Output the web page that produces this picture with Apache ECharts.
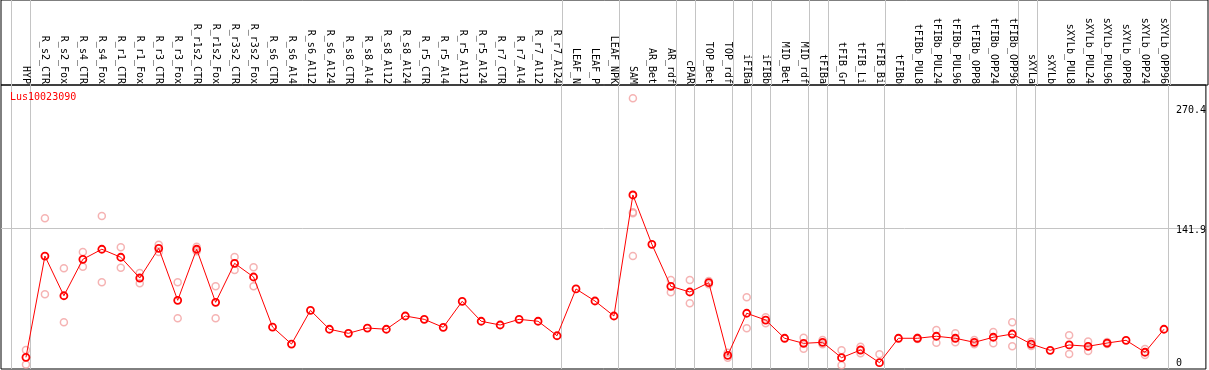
<!DOCTYPE html>
<html>
<head>
<meta charset="utf-8">
<script src="https://cdn.jsdelivr.net/npm/echarts@6/dist/echarts.min.js"></script>
<style>
html, body { margin: 0; padding: 0; background: #fff; }
#chart { width: 1209px; height: 370px; }
</style>
</head>
<body>
<div id="chart"></div>
<script>
var geneName = 'Lus10023090';

var categories = ['HYP', 'R_s2_CTR', 'R_s2_Fox', 'R_s4_CTR', 'R_s4_Fox', 'R_r1_CTR', 'R_r1_Fox',
    'R_r3_CTR', 'R_r3_Fox', 'R_r1s2_CTR', 'R_r1s2_Fox', 'R_r3s2_CTR', 'R_r3s2_Fox',
    'R_s6_CTR', 'R_s6_Al4', 'R_s6_Al12', 'R_s6_Al24', 'R_s8_CTR', 'R_s8_Al4', 'R_s8_Al12', 'R_s8_Al24',
    'R_r5_CTR', 'R_r5_Al4', 'R_r5_Al12', 'R_r5_Al24', 'R_r7_CTR', 'R_r7_Al4', 'R_r7_Al12', 'R_r7_Al24',
    'LEAF_N', 'LEAF_P', 'LEAF_NPK', 'SAM', 'AR_Bet', 'AR_rdf', 'cPAR', 'TOP_Bet', 'TOP_rdf',
    'iFIBa', 'iFIBb', 'MID_Bet', 'MID_rdf', 'tFIBa', 'tFIB_Gr', 'tFIB_Li', 'tFIB_Bi',
    'tFIBb', 'tFIBb_PUL8', 'tFIBb_PUL24', 'tFIBb_PUL96', 'tFIBb_OPP8', 'tFIBb_OPP24', 'tFIBb_OPP96',
    'sXYLa', 'sXYLb', 'sXYLb_PUL8', 'sXYLb_PUL24', 'sXYLb_PUL96', 'sXYLb_OPP8', 'sXYLb_OPP24', 'sXYLb_OPP96'];

// mean expression per sample
var means = [14.5, 114.5, 75.3, 111.3, 121.2, 113.3, 92.8, 122.1, 70.8, 121.2,
    68.8, 107.3, 93.8, 44.4, 27.6, 60.9, 42.2, 38.2, 43.4, 42.2,
    55.3, 52.0, 44.1, 69.8, 50.1, 46.4, 52.0, 50.1, 35.8, 82.0,
    70.1, 55.3, 174.8, 126.1, 84.6, 79.0, 88.2, 16.5, 58.0, 51.3,
    33.3, 28.3, 29.3, 14.1, 21.7, 9.2, 33.3, 33.3, 35.3, 33.3,
    29.3, 34.3, 37.5, 27.6, 21.4, 26.7, 25.4, 28.6, 31.3, 19.5,
    42.2];

// replicates (null = no replicate shown)
var repA = [21.6, 151.8, 102.4, 118.5, 154.0, 123.1, 97.8, 125.7, 88.6, 123.7,
    84.6, 113.6, 103.4, null, null, null, null, null, null, null,
    null, null, null, null, null, null, null, null, null, null,
    null, null, 270.4, null, 90.8, 90.8, 89.9, 19.0, 73.8, 54.0,
    null, 33.9, 31.6, 21.5, 25.0, 17.5, null, 33.9, 41.5, 38.2,
    31.6, 39.5, 49.1, 29.9, null, 36.2, 30.0, 29.5, null, 22.7,
    null];
var repB = [7.4, 76.7, 49.1, 104.0, 88.6, 103.0, 87.6, 118.5, 53.0, 119.2,
    53.0, 100.7, 84.6, null, null, null, null, null, null, null,
    null, null, null, null, null, null, null, null, null, null,
    null, null, 114.5, null, 78.7, 67.8, 86.6, 14.0, 43.2, 48.1,
    null, 23.0, 27.4, 6.7, 18.4, 0.9, null, 32.6, 28.9, 29.3,
    27.4, 28.3, 25.4, 25.7, null, 17.8, 20.8, 27.7, null, 16.8,
    null];
// SAM has two more replicates
var extraReps = [[32, 157.7], [32, 156.7]];

// group separators sit just right of these sample indices
var separatorsAfter = [-1, 0, 28, 31, 34, 35, 37, 38, 39, 41, 42, 45, 52, 53, 60];

var yTicks = [0, 141.9, 270.4];
var yTickLabels = ['0', '141.9', '270.4'];

var xMin = -1.3158, xMax = 62.21;
var yMin = 2.96, yMax = 283.4;
var font = 'DejaVu Sans Mono';

var sepValues = separatorsAfter.map(function (i) { return i + 0.237; });
var catValues = categories.map(function (c, i) { return i; });

var meanData = means.map(function (v, i) { return [i, v]; });
var repData = [];
for (var i = 0; i < categories.length; i++) {
    if (repA[i] != null) repData.push([i, repA[i]]);
    if (repB[i] != null) repData.push([i, repB[i]]);
}
extraReps.forEach(function (p) { repData.push(p); });

var yLabelValues = yTicks.map(function (v) { return Math.max(v, yMin); });
function yLabel(value) {
    var best = 0;
    for (var k = 1; k < yLabelValues.length; k++) {
        if (Math.abs(yLabelValues[k] - value) < Math.abs(yLabelValues[best] - value)) best = k;
    }
    return '{p' + best + '|' + yTickLabels[best] + '}';
}

var myChart = echarts.init(document.getElementById('chart'));
var option = {
    animation: false,
    backgroundColor: '#fff',
    title: {
        text: geneName,
        left: 10,
        top: 92,
        padding: 0,
        textStyle: { color: '#ff0000', fontSize: 10, fontWeight: 'normal', fontFamily: font }
    },
    grid: [
        { left: 1, right: 1, top: 0, height: 85, show: true, borderColor: '#000', borderWidth: 1 },
        { left: 1, right: 1, top: 85, bottom: 1, show: true, borderColor: '#000', borderWidth: 1 }
    ],
    xAxis: [{
        gridIndex: 0,
        type: 'value',
        min: xMin,
        max: xMax,
        axisLine: { show: false },
        axisTick: { show: false, customValues: sepValues },
        axisLabel: { show: false },
        splitLine: { show: true, lineStyle: { color: '#c4c4c4', width: 1 } }
    }, {
        gridIndex: 1,
        type: 'value',
        position: 'top',
        min: xMin,
        max: xMax,
        axisLine: { show: false },
        axisTick: { show: false, customValues: sepValues },
        axisLabel: {
            customValues: catValues,
            formatter: function (v) { return categories[Math.round(v)]; },
            rotate: 90,
            margin: 1,
            color: '#000',
            fontSize: 10,
            fontFamily: font
        },
        splitLine: { show: true, lineStyle: { color: '#c4c4c4', width: 1 } }
    }],
    yAxis: [{
        gridIndex: 0,
        type: 'value',
        show: false
    }, {
        gridIndex: 1,
        type: 'value',
        position: 'right',
        min: yMin,
        max: yMax,
        axisLine: { show: false },
        axisTick: { show: false, customValues: [yTicks[1]] },
        splitLine: { show: true, lineStyle: { color: '#c4c4c4', width: 1 } },
        axisLabel: {
            inside: true,
            customValues: yLabelValues,
            formatter: yLabel,
            align: 'left',
            margin: 30,
            color: '#000',
            fontSize: 10,
            fontFamily: font,
            rich: {
                p0: { fontSize: 10, fontFamily: font, padding: [0, 0, 12, 0] },
                p1: { fontSize: 10, fontFamily: font, padding: [4, 0, 0, 0] },
                p2: { fontSize: 10, fontFamily: font, padding: [24, 0, 0, 0] }
            }
        }
    }],
    series: [{
        name: 'replicates',
        type: 'scatter',
        xAxisIndex: 1,
        yAxisIndex: 1,
        symbol: 'circle',
        symbolSize: 7,
        itemStyle: { color: 'rgba(0,0,0,0)', borderColor: '#f2a0a0', borderWidth: 1.5 },
        z: 2,
        data: repData
    }, {
        name: 'mean',
        type: 'line',
        xAxisIndex: 1,
        yAxisIndex: 1,
        symbol: 'circle',
        symbolSize: 7,
        showAllSymbol: true,
        lineStyle: { color: '#ff0000', width: 1 },
        itemStyle: { color: 'rgba(0,0,0,0)', borderColor: '#ff0000', borderWidth: 1.8 },
        z: 3,
        data: meanData
    }]
};
myChart.setOption(option);
</script>
</body>
</html>
